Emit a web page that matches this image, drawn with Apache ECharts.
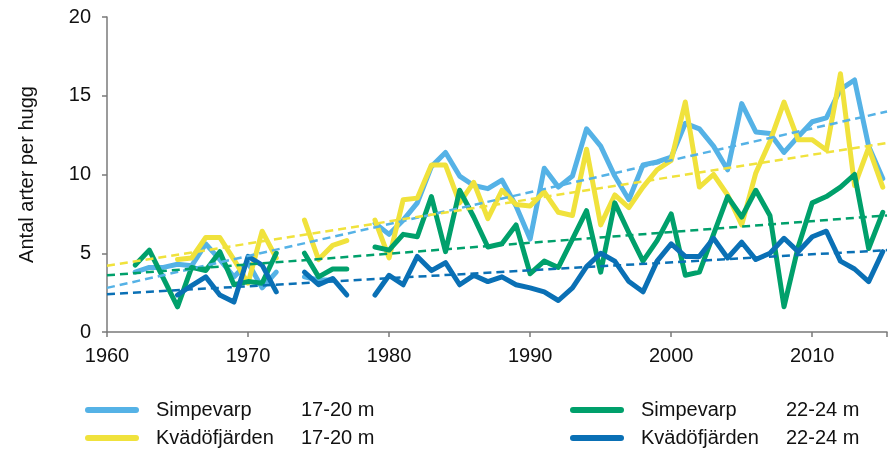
<!DOCTYPE html>
<html>
<head>
<meta charset="utf-8">
<script src="https://cdn.jsdelivr.net/npm/echarts@6/dist/echarts.min.js"></script>
<style>html,body{margin:0;padding:0;background:#fff}#c{width:890px;height:453px}</style>
</head>
<body>
<div id="c"></div>
<script>
const years = [1962,1963,1964,1965,1966,1967,1968,1969,1970,1971,1972,1973,1974,1975,1976,1977,1978,1979,1980,1981,1982,1983,1984,1985,1986,1987,1988,1989,1990,1991,1992,1993,1994,1995,1996,1997,1998,1999,2000,2001,2002,2003,2004,2005,2006,2007,2008,2009,2010,2011,2012,2013,2014,2015];

const simpevarp1720 = [3.8,4.1,4.1,4.3,4.2,5.6,4.6,3.5,4.4,2.8,3.8,null,3.5,3.3,3.3,null,null,6.9,6.2,7.1,8.2,10.5,11.4,9.9,9.3,9.1,9.65,8.0,5.9,10.4,9.2,9.9,12.9,11.8,9.9,8.4,10.6,10.8,11.1,13.25,12.9,11.8,10.3,14.5,12.7,12.6,11.4,12.4,13.35,13.6,15.4,16.0,11.8,9.75];

const kvadofjarden1720 = [null,null,null,4.6,4.7,6.0,6.0,4.6,3.1,6.4,4.7,null,7.1,4.6,5.5,5.8,null,7.1,4.7,8.4,8.5,10.6,10.6,8.2,9.5,7.2,9.0,8.1,8.0,8.9,7.6,7.4,11.6,6.8,8.7,7.9,9.2,10.3,10.9,14.6,9.2,10.0,8.7,6.8,10.1,12.1,14.6,12.2,12.2,11.55,16.4,9.3,11.7,9.2];

const simpevarp2224 = [4.25,5.2,3.4,1.6,4.1,3.9,5.1,3.0,3.2,3.1,5.0,null,5.0,3.5,4.0,4.0,null,5.4,5.2,6.2,6.05,8.6,5.1,9.0,7.3,5.4,5.6,6.8,3.7,4.5,4.1,5.9,7.7,3.8,8.2,6.3,4.5,5.8,7.5,3.6,3.8,6.2,8.6,7.3,9.0,7.4,1.6,5.4,8.2,8.6,9.2,10.0,5.3,7.6];

const kvadofjarden2224 = [null,null,null,2.35,2.95,3.5,2.35,1.9,4.8,4.25,2.55,null,3.8,3.0,3.4,2.35,null,2.35,3.6,3.0,4.8,3.9,4.4,3.0,3.6,3.2,3.5,3.0,2.8,2.55,2.0,2.8,4.15,5.0,4.5,3.2,2.55,4.5,5.6,4.8,4.8,5.95,4.7,5.7,4.6,5.0,5.95,5.1,6.05,6.4,4.5,4.0,3.2,5.1];

// trend line endpoints: [startYear, startValue, endYear, endValue]
const trendSimpevarp1720 = [1960, 2.8, 2015.3, 14.0];
const trendKvadofjarden1720 = [1960, 4.2, 2015.3, 12.0];
const trendSimpevarp2224 = [1960, 3.6, 2015.3, 7.4];
const trendKvadofjarden2224 = [1960, 2.4, 2015.3, 5.2];

const yTicks = [0, 5, 10, 15, 20];
const xTicks = [1960, 1970, 1980, 1990, 2000, 2010];

const seriesNames = ['Simpevarp|17-20 m', 'Kvädöfjärden|17-20 m', 'Simpevarp|22-24 m', 'Kvädöfjärden|22-24 m'];
const colors = ['#55b2e6', '#f0e23c', '#00a06b', '#0a70b5'];

const allData = [simpevarp1720, kvadofjarden1720, simpevarp2224, kvadofjarden2224];
const trends = [trendSimpevarp1720, trendKvadofjarden1720, trendSimpevarp2224, trendKvadofjarden2224];

const font = 'Arial, "Liberation Sans", Helvetica, sans-serif';
const fs = 20;

const series = [];
allData.forEach((arr, i) => {
  series.push({
    name: seriesNames[i],
    type: 'line',
    data: years.map((y, k) => [y, arr[k]]),
    showSymbol: false,
    symbol: 'none',
    connectNulls: false,
    lineStyle: { color: colors[i], width: 5, cap: 'round', join: 'round' },
    itemStyle: { color: colors[i] },
    z: 2 + i,
    silent: true
  });
});
trends.forEach((t, i) => {
  series.push({
    name: 'trend' + i,
    type: 'line',
    data: [[t[0], t[1]], [t[2], t[3]]],
    showSymbol: false,
    symbol: 'none',
    lineStyle: { color: colors[i], width: 2.5, type: [8, 5] },
    z: 10,
    silent: true
  });
});

const iconPath = 'path://M3,0 H51 A3,3 0 0 1 51,6 H3 A3,3 0 0 1 3,0 Z';
function legendCfg(left, names) {
  return {
    data: names,
    orient: 'vertical',
    left: left,
    top: 395,
    itemWidth: 54,
    itemHeight: 6,
    itemGap: 8,
    icon: iconPath,
    selectedMode: false,
    formatter: function (name) {
      const p = name.split('|');
      return '{a|' + p[0] + '}{b|' + p[1] + '}';
    },
    textStyle: {
      fontFamily: font,
      fontSize: fs,
      color: '#111',
      lineHeight: 20,
      rich: {
        a: { fontFamily: font, fontSize: fs, color: '#111', width: 145, padding: [0, 0, 0, 12] },
        b: { fontFamily: font, fontSize: fs, color: '#111' }
      }
    }
  };
}

const chart = echarts.init(document.getElementById('c'), null, { renderer: 'canvas' });
chart.setOption({
  animation: false,
  backgroundColor: '#fff',
  grid: { left: 107, right: 0, top: 17, bottom: 121, containLabel: false },
  legend: [
    legendCfg(80, [seriesNames[0], seriesNames[1]]),
    legendCfg(565, [seriesNames[2], seriesNames[3]])
  ],
  xAxis: {
    type: 'value',
    min: 1960,
    max: 2015.3,
    interval: 10,
    axisLine: { show: true, lineStyle: { color: '#7a7a7a', width: 1.5 } },
    axisTick: { show: true, length: 5, lineStyle: { color: '#7a7a7a', width: 1.5 } },
    splitLine: { show: false },
    axisLabel: {
      margin: 14,
      fontFamily: font, fontSize: fs, color: '#111',
      formatter: function (v) { return xTicks.indexOf(v) >= 0 ? String(v) : ''; }
    }
  },
  yAxis: {
    type: 'value',
    min: 0,
    max: 20,
    interval: 5,
    name: 'Antal arter per hugg',
    nameLocation: 'middle',
    nameGap: 70,
    nameRotate: 90,
    nameTextStyle: { fontFamily: font, fontSize: fs, color: '#111' },
    axisLine: { show: true, lineStyle: { color: '#7a7a7a', width: 1.5 } },
    axisTick: { show: true, length: 5, lineStyle: { color: '#7a7a7a', width: 1.5 } },
    splitLine: { show: false },
    axisLabel: {
      margin: 16,
      fontFamily: font, fontSize: fs, color: '#111',
      formatter: function (v) { return yTicks.indexOf(v) >= 0 ? String(v) : ''; }
    }
  },
  series: series
});
</script>
</body>
</html>
